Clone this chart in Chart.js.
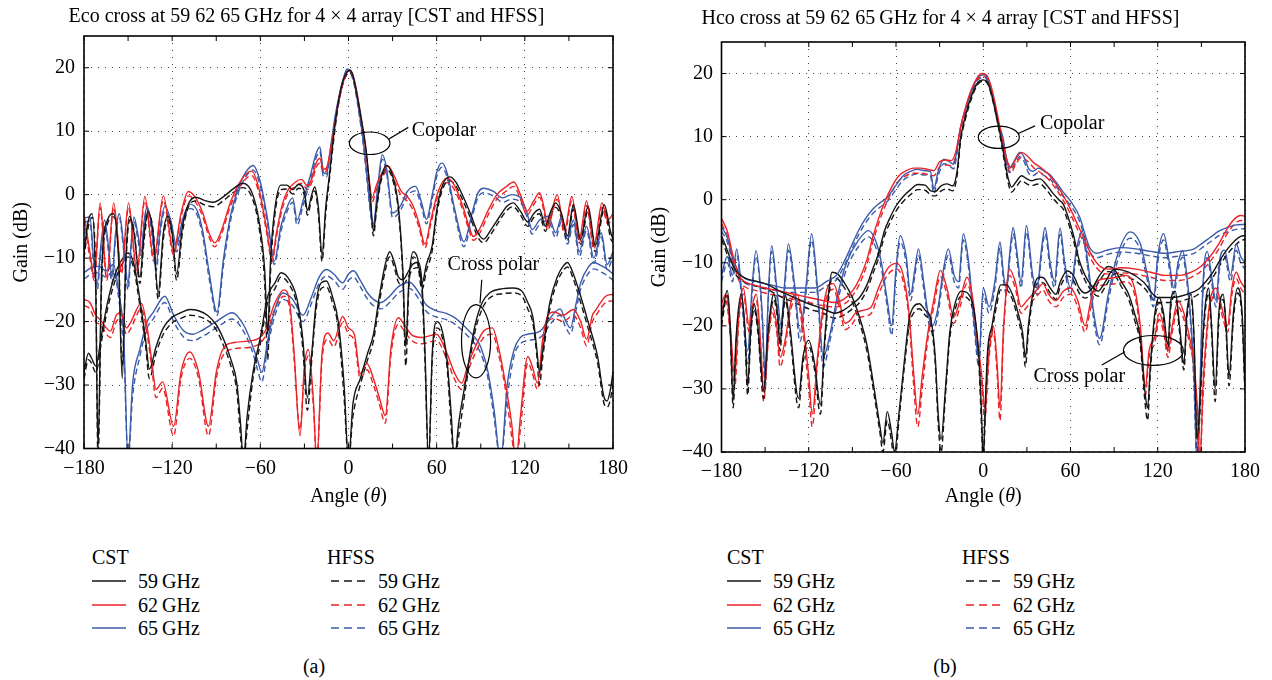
<!DOCTYPE html>
<html>
<head>
<meta charset="utf-8">
<script src="https://cdn.jsdelivr.net/npm/chart.js@4.4.1/dist/chart.umd.min.js"></script>
<style>
  body { margin: 0; background: #fff; width: 1272px; height: 680px; position: relative; overflow: hidden;
         font-family: 'Liberation Serif', serif; color: #000; }
  canvas { position: absolute; top: 0; }
  .lg { position: absolute; font-size: 20px; line-height: 24px; white-space: nowrap; }
  .ln { position: absolute; }
</style>
</head>
<body>
<canvas id="chartA" width="636" height="520" style="left:0"></canvas>
<canvas id="chartB" width="636" height="520" style="left:636px"></canvas>
<div id="legend"></div>
<script>
// axis ticks
const xTicks = [-180, -150, -120, -90, -60, -30, 0, 30, 60, 90, 120, 150, 180];
const yTicks = [-40, -30, -20, -10, 0, 10, 20];
const freqs = ['59 GHz', '62 GHz', '65 GHz'];

// ---------- (a) Eco cross ----------
// copolar 59 GHz
const aCo59ang = [
  -180,-177,-174.5,-172,-170.5,-168,-164,-160,-156.5,-154,
  -151.5,-149,-146,-142,-139,-136.5,-133,-129.5,-126,-123,
  -120,-117,-113,-109,-104,-98,-92,-85,-78,-72,
  -66,-61,-57,-55,-53,-50,-46,-42,-38,-34,
  -30,-28,-25,-23,-20.5,-18,-15.5,-13,-10,-7,
  -4,-1,1,3,6,9,12,14.5,17,19,
  22,26,30,34,37,39,41,44,47,50,
  53,57,60,64,69,73,78,83,88,92,
  97,103,108,112,117,122,126,130,134,137,
  141,145,149,153,158,163,168,174,178.5,180];
const aCo59cst = [
  -9,-4,-3,-15,-40,-12,-4,-3,-10,-29,
  -10,-3.4,-6,-13,-6,-2.6,-6,-15.5,-6,-3.4,
  -6,-12.5,-5,-1.5,-0.4,-0.9,-1.2,-0.3,1,1.8,
  0.5,-4,-12,-22,-10,-2,1.5,1.5,0.8,1.6,
  0.5,-2.5,0,1.2,-2,-9.5,-2,3,9.5,14.5,
  17.8,19.3,19.6,18.8,15.5,11.5,7,1,-5.8,-2,
  2.5,4.6,3,-2,-12,-24,-14,-9,-10,-14,
  -11,-8,-2.5,1.5,2.8,2,-0.3,-3,-6,-7,
  -5.5,-3.4,-1.8,-1.3,-2.6,-4.3,-3,-2.3,-5,-3,
  -1.3,-3,-6.5,-1.6,-7,-1.8,-8,-1.6,-6,-7];
const aCo59hfss = [
  -10,-5,-3.6,-13,-42,-14,-4.6,-3.5,-9,-27,
  -11,-4,-5.5,-14,-7,-3.2,-5.5,-16.5,-7,-4,
  -6.5,-13.5,-6,-2,-1,-1.6,-1.9,-0.9,0.4,1.1,
  -0.3,-5,-14,-26,-12,-3,0.8,0.9,0.1,1,
  -0.2,-3.2,-0.6,0.6,-3,-10.5,-3,2.4,8.8,14,
  17.4,19,19.3,18.5,15.2,11,6.3,0.2,-6.5,-2.6,
  2,4,2.4,-2.7,-13,-27,-15,-9.8,-10.8,-15,
  -12,-8.8,-3.2,0.9,2.2,1.4,-1,-3.7,-6.7,-7.6,
  -6.2,-4,-2.4,-1.9,-3.2,-5,-3.6,-3,-5.8,-3.7,
  -2,-3.7,-7.3,-2.3,-7.8,-2.5,-9,-2.3,-7,-7.5];

// copolar 62 GHz
const aCo62ang = [
  -180,-176,-173,-169,-164.5,-159.8,-154.5,-149.7,-144,-138.6,
  -132.5,-126,-119,-114,-109,-104,-99,-95,-91,-87,
  -80,-73,-66,-61,-56,-52,-49,-45,-41,-36,
  -32,-28,-25,-22,-19.5,-17,-15,-12,-9,-6,
  -3,0,2,5,8,11,14,16,19,23,
  27,31,36,40,44,48,52,56,61,67,
  72,78,82,85,89,95,101,107,112.5,117,
  121.5,126,130,133,135.6,139,142,147,152,157,
  162,167,172.5,176.5,180];
const aCo62cst = [
  -3,-9,-13,-1.3,-13,-1.3,-12,-1.3,-12,-0.3,
  -10,-0.2,-9,-3,0.5,-0.5,-3,-6,-7.6,-6,
  -1,2.3,3.7,1,-5,-10,-6,-1.5,0.8,2,
  2.4,1.4,2.5,5,5.7,4,4.2,7.5,11.5,15.5,
  18.2,19.5,19.4,17,13,8.5,2.5,-0.5,1.5,3.5,
  4.5,3,0.5,-0.3,-1.8,-4.5,-7.8,-4,0.5,2.6,
  1.5,-2,-5,-6.6,-5.5,-2.5,0,1.2,2,0,
  -2.6,-1,0.3,-2,-5,-2,0,-5.5,-0.3,-7,
  -1,-8,-1.3,-4,-3];
const aCo62hfss = [
  -3.8,-10,-13.5,-2,-13.5,-2,-12.5,-2,-12.5,-1,
  -10.5,-0.9,-9.5,-3.6,-0.2,-1.2,-3.6,-6.6,-8.2,-6.6,
  -1.6,1.6,3,0.3,-5.6,-10.5,-6.6,-2.2,0.2,1.4,
  1.8,0.8,1.9,4.3,5,3.4,3.8,7.2,11.3,15.3,
  18,19.2,19,16.5,12.3,7.8,1.8,-1.2,0.8,2.8,
  3.8,2.3,-0.2,-1,-2.5,-5.2,-8.4,-4.6,-0.2,1.9,
  0.8,-2.6,-5.6,-7.2,-6.2,-3.2,-0.7,0.5,1.3,-0.7,
  -3.2,-1.6,-0.4,-2.6,-5.6,-2.6,-0.7,-6.2,-1,-7.6,
  -1.7,-8.6,-2,-4.6,-3.6];

// copolar 65 GHz
const aCo65ang = [
  -180,-176,-173.5,-171,-168.5,-166,-163,-161,-158.5,-156,
  -153,-150,-148,-146,-143.5,-141,-139,-137,-134,-131,
  -128,-125,-121,-117,-113,-108,-103,-99,-95,-89.5,
  -85,-80,-75,-70,-65,-60,-55,-50.5,-46,-41,
  -38,-35,-31,-26,-22,-19.5,-17,-15,-12,-9,
  -6,-3,-1,1,4,7,10,13,15,17,
  20,23,26,30,33,36,40,45.6,50,53,
  57,60,63.5,67,72,78.6,84,88,92,98.6,
  105,111,117,121,125,130,136,141,145,149,
  153,157,162,167,172,176,180];
const aCo65cst = [
  -3.7,-3.5,-10,-14,-8,-4,-9,-13,-6,-3,
  -8,-14,-8,-3.5,-6,-9,-4,-1.9,-5,-11,
  -5,-1.8,-4,-8,-4,-1.5,-2.5,-6,-12,-18.5,
  -10,-3,1,3.5,4.6,2,-4,-10.5,-5,-1.5,
  -0.5,-4,-1,3,6.5,7.5,3.5,3.3,7.8,12.5,
  16,18.7,19.8,19.6,17.6,13.5,8.5,2,-2.5,-4.5,
  1.5,6.3,4,-2.9,-2.5,-1.5,0.5,1.3,-1.5,-3.9,
  0,3.5,5,3.5,-2,-7.4,-3,0.2,1,0.5,
  -0.5,0,-0.5,-2.5,-5.5,-4,-3.4,-6,-3.5,-7,
  -4,-9,-5,-10,-6,-11,-9];
const aCo65hfss = [
  -4.3,-4.2,-11,-15,-8.7,-4.7,-9.8,-14,-6.7,-3.7,
  -8.8,-15,-8.7,-4.2,-6.8,-10,-4.7,-2.6,-5.8,-12,
  -5.8,-2.5,-4.8,-9,-4.8,-2.2,-3.2,-6.8,-13,-19,
  -11,-3.8,0.3,2.8,3.9,1.3,-4.8,-11,-5.8,-2.2,
  -1.2,-4.8,-1.8,2.2,5.8,6.8,2.8,2.8,7.3,12,
  15.6,18.4,19.5,19.3,17.2,13,8,1.4,-3,-5,
  0.8,5.6,3.3,-3.6,-3.2,-2.2,-0.2,0.6,-2.2,-4.6,
  -0.7,2.8,4.3,2.8,-2.7,-8.2,-3.7,-0.5,0.3,-0.2,
  -1.2,-0.7,-1.2,-3.2,-6.2,-4.7,-4.1,-6.8,-4.2,-7.8,
  -4.7,-9.8,-5.7,-10.8,-6.7,-11.8,-9.8];

// cross polar 59 GHz
const aX59ang = [
  -180,-177,-175,-172,-168,-164,-158,-153,-150,-146,
  -142,-138,-135.5,-131,-126,-120,-114,-108,-102,-96,
  -90,-85,-80,-76,-73.5,-71.5,-69,-65,-60,-55,
  -50,-46,-40,-35,-31,-28,-25,-22,-18.6,-15,
  -11,-7,-3,0,3,8,13,17,21,25,
  28,31,34,37,41,44,47.6,50,52,54.5,
  57,60,63,67,70,72,75,80,86,91,
  96,105,112,118,122,125.5,128,130,132,137,
  142,146,149,153,158,163,169.5,174,176,178,180];
const aX59cst = [
  -28,-25,-25.7,-27,-22,-17,-12,-9.8,-9.2,-11,
  -16.5,-23,-27.5,-24,-21,-19.3,-18.6,-18.1,-18.3,-19,
  -20.5,-22.8,-26,-29.7,-36,-42,-35,-28,-22.5,-16,
  -13.9,-12.3,-13.5,-16.5,-23,-32,-25,-17,-13.9,-13.6,
  -16,-20,-30,-42,-33,-29,-25,-22,-16,-11,
  -9,-10.5,-13,-13.4,-12,-10.9,-10.7,-14,-24.4,-42,
  -25,-20,-20.8,-26,-35,-42,-36,-29,-20.7,-17,
  -15.5,-14.8,-14.7,-15.2,-17,-19.3,-24,-28,-25,-17,
  -13,-11.3,-10.7,-12.5,-16,-20,-25.5,-32,-32.5,-31,-28];
const aX59hfss = [
  -29,-26,-26.5,-28,-23,-18,-13,-10.5,-9.8,-11.8,
  -17.5,-24,-29,-25,-22,-20.2,-19.5,-19,-19.2,-19.8,
  -21.3,-23.8,-27,-31,-38,-42,-37,-29,-23.5,-17,
  -14.8,-13,-14.3,-17.5,-24.5,-34,-26,-18,-14.8,-14.5,
  -17,-21,-32,-42,-35,-30,-26,-23,-17,-12,
  -9.8,-11.3,-13.8,-14.2,-12.8,-11.7,-11.5,-15,-26,-42,
  -26,-21,-21.8,-27,-37,-42,-38,-30,-21.7,-18,
  -16.3,-15.6,-15.5,-16,-18,-20.3,-25,-30,-26,-18,
  -13.8,-12,-11.4,-13.3,-17,-21,-26.5,-33,-33.5,-32.5,-30];

// cross polar 62 GHz
const aX62ang = [
  -180,-176,-172,-169,-162,-158,-155,-151,-148,-141,
  -137,-134,-131,-126.5,-119,-114,-108,-102,-95.3,-90,
  -86,-78,-66,-57,-50,-44,-40,-37,-33,-30,
  -27.3,-24,-21.6,-18,-14,-10,-4,0,4,8,
  12.5,17,21,25,29,34,38,43,50,59.9,
  67,72,77,81,85.5,92,97.9,102,107,111,
  114,117,122,125,128.6,132,135.4,140,146,153,
  158,162,166,168.5,175,180];
const aX62cst = [
  -16.5,-17,-19,-19.7,-21.5,-19,-18.6,-21,-20,-17.1,
  -21,-26,-30.7,-29.5,-36.5,-28,-24.8,-28,-36.5,-28,
  -24.6,-23.3,-23,-21.6,-17,-15,-17,-25,-38,-27,
  -24.4,-32,-42,-25,-21.8,-23,-19.2,-21,-22,-28.2,
  -26.6,-29,-32,-34.8,-24,-19.4,-20.5,-22.1,-22.5,-22,
  -25,-28,-29.7,-27,-24.4,-21.5,-21,-24,-30,-36,
  -42,-35,-25.5,-27,-29.7,-23,-19.2,-18.5,-19,-18.1,
  -20,-22.8,-19,-18.1,-16,-15.7];
const aX62hfss = [
  -17.5,-18,-20,-20.5,-22.5,-20,-19.5,-22,-21,-18,
  -22,-27,-32,-30.5,-38,-29,-25.8,-29,-38,-29,
  -25.6,-24.3,-24,-22.5,-18,-16,-18,-26,-37,-28,
  -25.4,-33,-42,-26,-22.8,-24,-20.2,-22,-23,-29,
  -27.6,-30,-33,-36,-25,-20.4,-21.5,-23,-23.5,-23,
  -26,-29,-30.7,-28,-25.4,-22.5,-22,-25,-31,-38,
  -42,-37,-26.5,-28,-30.7,-24,-20.2,-19.5,-20,-19,
  -21,-23.8,-20,-19,-17,-16.7];

// cross polar 65 GHz
const aX65ang = [
  -180,-175,-170,-165,-160,-156,-153,-150,-147,-142,
  -137,-133,-125,-119,-112,-106,-100.6,-90,-79,-71,
  -65,-62,-59,-55,-50,-44.7,-38,-31,-25,-20,
  -15,-10,-4,0,3.4,8,13,17,22,28,
  34,41.6,48,53,60,66.6,73,80,86,90,
  95,99,103.6,108,112.7,117,121.8,130.5,137,144,
  148,151,155,158,163,167,172,175.8,180];
const aX65cst = [
  -12.3,-11.5,-11.3,-12,-11,-16,-22,-42,-30,-24.4,
  -20,-18.6,-16,-19,-21.5,-22,-21.5,-20,-18.6,-20.7,
  -24,-26,-28,-23,-18,-15.5,-16.5,-19,-16,-13,
  -11.8,-12.5,-13.9,-12.5,-12,-13.5,-15.5,-16.5,-17,-16,
  -14.5,-13.8,-15.5,-17.4,-18.3,-18.7,-19.5,-21,-22.5,-24,
  -28,-33.8,-42,-30,-24.4,-22.5,-22,-21.5,-19.5,-18,
  -20,-21,-17,-13.9,-11.5,-10.7,-11.2,-11.7,-12.5];
const aX65hfss = [
  -13.3,-12.5,-12.3,-13,-12,-17,-24,-42,-32,-25.5,
  -21,-19.6,-17,-20,-22.5,-23,-22.5,-21,-19.6,-21.7,
  -25,-27.5,-29.5,-24,-19,-16.5,-17.5,-20,-17,-14,
  -12.8,-13.5,-14.9,-13.5,-13,-14.5,-16.5,-17.5,-18,-17,
  -15.5,-14.8,-16.5,-18.4,-19.3,-19.7,-20.5,-22,-23.5,-25,
  -29,-35,-42,-32,-25.4,-23.5,-23,-22.5,-20.5,-19,
  -21,-22,-18,-14.9,-12.5,-11.7,-12.2,-12.7,-13.5];

// ---------- (b) Hco cross ----------
// copolar 59 GHz
const bCo59ang = [
  -180,-176,-172,-168,-163,-155,-148,-140,-130,-120,
  -110,-102,-96,-90,-85,-80,-76,-72,-68,-64,
  -60,-55,-50,-45,-40,-36,-33,-29,-25,-21,
  -18,-15.7,-12,-8,-4,0,3,6,9,12,
  15,17,19.5,22.5,26.4,30,33.3,36,39,43,
  48,52,55,58,61.8,66,70,74,79,84,
  90,100,110,120,130,140,148,153,158,163,
  168,173,177,180];
const bCo59cst = [
  -5.7,-8,-10.5,-11.8,-12.5,-13,-13.5,-14.5,-15.5,-16.5,
  -17.3,-18,-17.5,-16.5,-15.5,-13.5,-11,-8.5,-5,-2.8,
  -1,0.5,1.6,2.4,2.3,1.4,1.3,2.2,2.5,2.2,
  4.5,9.5,13.5,16.5,18.5,19,18.6,16.5,13.5,10,
  6,3.5,2,2.8,3.8,3.3,3,3.2,3.3,2.5,
  1,0,-0.7,-2.5,-5.4,-9.6,-12,-13.5,-14.5,-13,
  -11,-11.5,-13,-15.5,-15.5,-15,-14.2,-13,-11.5,-9.5,
  -7.8,-6.5,-5.8,-5.7];
const bCo59hfss = [
  -6.3,-8.7,-11.2,-12.5,-13.2,-13.8,-14.3,-15.3,-16.3,-17.3,
  -18,-18.8,-18.3,-17.3,-16.3,-14.3,-11.8,-9.3,-5.8,-3.6,
  -1.8,-0.3,0.8,1.6,1.5,0.7,0.6,1.4,1.7,1.4,
  3.8,9,13,16.1,18.2,18.8,18.4,16.2,13.1,9.5,
  5.4,2.8,1.2,2,3,2.5,2.2,2.4,2.5,1.7,
  0.2,-0.8,-1.5,-3.3,-6.2,-10.4,-12.8,-14.3,-15.3,-13.8,
  -11.8,-12.3,-13.8,-16.3,-16.3,-15.8,-15,-13.8,-12.3,-10.3,
  -8.6,-7.3,-6.5,-6.3];

// copolar 62 GHz
const bCo62ang = [
  -180,-176,-172,-168,-164,-158,-150,-140,-130,-120,
  -110,-102,-96,-90,-85,-80,-76,-72,-68,-63,
  -58,-53,-48,-43,-38,-34,-30,-26,-22,-19,
  -15.7,-12,-8,-4,-1,2,5,8,11,14,
  17,19,22.5,26.4,30,35,40,45,50,55,
  60,65,70,75,80,86,95,105,115,125,
  135,143,150,156,162,168,173,177,180];
const bCo62cst = [
  -3,-5,-9,-12,-13,-13.5,-14,-14.5,-15,-15.5,
  -16,-16.3,-15.8,-14.5,-12.5,-9.5,-6,-3,-0.5,2,
  3.8,4.6,5,5,4.8,4.6,6,6.3,6.2,7.5,
  11.4,14.8,17.6,19.4,20,19.8,18.3,15.5,12,8.5,
  5.8,5.1,6.5,7.5,7,5.8,5,4,2.5,0.7,
  -1.5,-4,-6.5,-9,-10.5,-11,-10.8,-11,-11.5,-12,
  -12,-11.5,-10.5,-9,-7,-4.5,-3,-2.5,-2.6];
const bCo62hfss = [
  -3.8,-5.8,-9.8,-12.8,-13.8,-14.3,-14.8,-15.3,-15.8,-16.3,
  -16.8,-17,-16.6,-15.3,-13.3,-10.3,-6.8,-3.8,-1.3,1.2,
  3,3.8,4.2,4.2,4,3.8,5.2,5.5,5.4,6.8,
  10.8,14.3,17.2,19,19.6,19.4,17.9,15,11.4,7.9,
  5.1,4.3,5.7,6.7,6.2,5,4.2,3.2,1.7,-0.1,
  -2.3,-4.8,-7.3,-9.8,-11.3,-11.8,-11.6,-11.8,-12.3,-12.8,
  -12.8,-12.3,-11.3,-9.8,-7.8,-5.3,-3.8,-3.3,-3.4];

// copolar 65 GHz
const bCo65ang = [
  -180,-176,-172,-168,-164,-156,-146,-136,-126,-116,
  -108,-101,-96,-91,-86,-81,-76,-71,-66,-60,
  -55,-50,-45.4,-40,-36.4,-34,-31,-27,-23,-20.3,
  -18,-15.7,-12,-8,-4,-1.8,1,4,7,10,
  13.6,16,18,21,25.2,28,31,34,38,42,
  45.8,50,55,60,66.4,70,73,78,85,95,
  105,115,125,135,145,150,156,162,168,174,180];
const bCo65cst = [
  -4.3,-6,-9.5,-11.5,-12.5,-13,-13.5,-14,-14,-14,
  -13,-12,-10,-7.5,-5,-3,-1.5,-0.5,0.4,2.3,
  3.8,4.5,4.8,4.6,4.5,1.7,4.5,6.4,6,5.6,
  8,11.4,14.5,17.2,19.3,19.7,19.8,18.5,16,12.5,
  9.8,6.5,5,6,7.5,6.8,5,4.5,5,4.5,
  4,2.8,1.2,-0.2,-2.8,-5.5,-7.5,-8.5,-8,-7.6,
  -7.8,-8.2,-8.5,-8.2,-7.8,-7,-6,-5,-4.4,-4,-3.9];
const bCo65hfss = [
  -5,-6.7,-10.2,-12.2,-13.2,-13.7,-14.2,-14.7,-14.7,-14.7,
  -13.7,-12.7,-10.7,-8.2,-5.7,-3.7,-2.2,-1.2,-0.3,1.6,
  3.1,3.8,4.1,3.9,3.8,1,3.8,5.7,5.3,4.9,
  7.4,10.9,14,16.8,18.9,19.3,19.4,18.1,15.5,12,
  9.2,5.8,4.3,5.3,6.8,6.1,4.3,3.8,4.3,3.8,
  3.3,2.1,0.5,-0.9,-3.5,-6.2,-8.2,-9.2,-8.7,-8.3,
  -8.5,-8.9,-9.2,-8.9,-8.5,-7.7,-6.7,-5.7,-5.1,-4.7,-4.6];

// cross polar 59 GHz
const bX59ang = [
  -180,-176,-174,-172,-170,-166.5,-164,-162,-160,-157.6,
  -155,-151,-148,-144,-141.5,-139.7,-138,-136,-133,-127,
  -124,-120,-116,-112,-109,-106,-104,-100,-96,-90,
  -86,-80,-75,-71,-69,-66,-63,-61,-58,-54,
  -51,-48,-44,-40,-36,-33,-31,-29,-26,-23,
  -20,-15,-10,-6,-3,-1,0,1,3,6,
  9,12,16,20,24,27,29,31,34,37,
  39.5,42,46,50,53,57.8,62,66,70,75,
  80,86,90,95,100,104,108,111,113,115,
  118,121,124,127,129,132,135,138,140,143,
  145,147,149,151,153,155,157,159.5,162,165,
  167,169,172,175,178,180];
const bX59cst = [
  -19,-14.4,-20,-31.8,-22,-15,-20,-29.6,-21,-16.5,
  -20,-30.2,-21,-15,-18,-22.8,-18,-15.2,-20,-31.5,
  -25,-22.3,-26,-32.5,-22,-14,-11.5,-11.8,-13,-15.5,
  -18,-23,-30,-36,-38.6,-33.6,-37,-40,-34,-25,
  -19,-17,-16.5,-17.5,-19,-25,-34,-38,-30,-21,
  -17,-14.5,-15,-18,-25,-35,-42,-35,-24,-20,
  -16,-13.5,-13.5,-15,-18,-21,-25,-20,-15,-12.5,
  -12.3,-12.5,-14,-15,-13,-11.3,-12,-14,-14.8,-14,
  -12,-10.6,-11,-13,-15,-18,-22,-30,-33,-26,
  -18,-15.5,-18,-23,-16,-14.5,-20,-26,-18,-15,
  -22,-38,-32,-22,-16,-14,-20,-30,-18,-15,
  -20,-28,-18,-14,-18,-30];
const bX59hfss = [
  -20,-15.2,-21,-33,-23,-15.8,-21,-31,-22,-17.3,
  -21,-31.5,-22,-15.8,-19,-24,-19,-16,-21,-33,
  -26,-23.2,-27,-34,-23,-15,-12.4,-12.6,-13.8,-16.3,
  -18.8,-24,-31,-37,-40,-35,-38.5,-42,-35,-26,
  -20,-18,-17.3,-18.3,-20,-26,-35.5,-40,-31,-22,
  -18,-15.3,-15.8,-19,-26,-37,-42,-37,-25,-21,
  -17,-14.3,-14.3,-15.8,-19,-22,-26.5,-21,-15.8,-13.3,
  -13.1,-13.3,-14.8,-15.8,-13.8,-12.1,-12.8,-14.8,-15.6,-14.8,
  -12.8,-11.4,-11.8,-13.8,-15.8,-19,-23,-31.5,-35,-27,
  -19,-16.3,-19,-24,-17,-15.3,-21,-27,-19,-15.8,
  -23,-40,-34,-23,-17,-14.8,-21,-32,-19,-15.8,
  -21,-29.5,-19,-14.8,-19,-31];

// cross polar 62 GHz
const bX62ang = [
  -180,-177,-174,-171,-168,-165,-161,-158,-156,-153,
  -151,-148,-145,-142,-139.7,-136,-132,-128,-124,-120,
  -117.6,-114,-110,-106,-103,-99,-95,-91,-88,-82,
  -77,-72,-66,-59.5,-55,-51,-48,-45,-42,-38,
  -34,-29.5,-25,-20.3,-16,-11.2,-7,-4.3,-1,1,
  4,7,9.5,11.5,14,18,22,26,30,34,
  38,41,45,50,55,60,65,70,74,78,
  85,92,98,104,108,111.5,114,118,121,124,
  127,130,134,138,142,145,147.5,149,151,154,
  156,160,165,168,171,174,177,180];
const bX62cst = [
  -16.5,-15,-20,-28,-18,-14,-20,-16,-15,-23,
  -30.5,-22,-17,-20,-25,-22,-16,-15,-19.7,-28,
  -34,-25,-17,-13.5,-13.3,-16,-19.6,-19,-18,-17.5,
  -17,-14,-11,-10.1,-12,-18,-27,-34,-28,-21,
  -15.9,-11.2,-14,-18.6,-16,-12.3,-16,-21.7,-28,-33,
  -24,-20,-26,-33,-20,-11,-13,-17,-16,-15,
  -14,-13.3,-15,-16,-14.5,-14,-16,-20,-16,-13,
  -12.5,-12.3,-12,-14,-20,-29.6,-24,-21.7,-18,-20,
  -24,-20,-16,-18,-22,-26,-34,-42,-30,-20,
  -16,-14,-18,-20,-14,-11.5,-13,-14];
const bX62hfss = [
  -17.5,-16,-21.5,-30,-19,-15,-21,-17,-16,-24.5,
  -32,-23,-18,-21,-26.5,-23,-17,-16,-21,-30,
  -36,-26,-18,-14.5,-14.2,-17,-20.6,-20,-19,-18.5,
  -18,-15,-12,-11,-13,-19,-29,-36,-30,-22,
  -17,-12.2,-15,-19.6,-17,-13.3,-17,-22.7,-29.5,-35,
  -25,-21,-27.5,-35,-21,-12,-14,-18,-17,-16,
  -15,-14.3,-16,-17,-15.5,-15,-17,-21,-17,-14,
  -13.5,-13.3,-13,-15,-21,-31,-25,-22.7,-19,-21,
  -25,-21,-17,-19,-23,-27,-36,-42,-32,-21,
  -17,-15,-19,-21,-15,-12.5,-14,-15];

// cross polar 65 GHz
const bX65ang = [
  -180,-176,-172.5,-169.5,-166,-162,-159,-156.3,-152,-150,
  -148,-145.5,-142,-139,-136.5,-134,-130,-126,-122,-118,
  -114,-110,-106,-100,-94,-86,-79,-74,-70,-66,
  -63,-60,-57.2,-53,-50,-47,-44.6,-41,-38,-35,
  -31,-28,-24,-20,-17,-13.7,-10,-6,-3,0,
  4,8,11.5,14,16,18,20.6,23,26,29.7,
  34,37,40,42.5,46,49,52.8,56,60,64,
  68,72,76,80,86,92,101,108,113,117,
  120,124,128,131,134,137,140,143,145,147,
  149,151,154,157,160,163,166,170,174,177,180];
const bX65cst = [
  -12,-9,-12,-7.8,-15,-24,-14,-8.1,-18,-28,
  -16,-7.3,-14,-20,-13,-7,-13,-21,-14,-5.4,
  -14,-25,-22,-15,-10,-6.5,-4.9,-6.5,-10,-16,
  -20,-11,-5.7,-9,-15,-11,-7.8,-13,-18,-20,
  -17,-12,-7.8,-12,-13,-5.4,-10,-20,-25,-14,
  -17,-13,-6.7,-12,-14,-9,-4.4,-8,-13,-4.1,
  -12,-14,-8,-4.4,-10,-13,-4.5,-10,-14,-8,
  -5,-10,-18,-22,-15,-9,-5.1,-7,-12,-16,
  -9,-5.4,-10,-14,-10,-8.1,-12,-20,-28,-42,
  -30,-14,-8.2,-12,-16,-9,-8,-12,-7,-9,-10];
const bX65hfss = [
  -13,-10,-13,-8.8,-16,-26,-15,-9,-19,-30,
  -17,-8.2,-15,-21.5,-14,-8,-14,-22.5,-15,-6.4,
  -15,-26.5,-23,-16,-11,-7.5,-5.9,-7.5,-11,-17,
  -21.5,-12,-6.7,-10,-16,-12,-8.8,-14,-19,-21,
  -18,-13,-8.8,-13,-14,-6.4,-11,-21,-26.5,-15,
  -18,-14,-7.7,-13,-15,-10,-5.4,-9,-14,-5.1,
  -13,-15,-9,-5.4,-11,-14,-5.5,-11,-15,-9,
  -6,-11,-19,-23,-16,-10,-6.1,-8,-13,-17,
  -10,-6.4,-11,-15,-11,-9.1,-13,-21,-30,-42,
  -32,-15,-9.2,-13,-17,-10,-9,-13,-8,-10,-11];

// callouts: ellipse centre/radii, leader line ends, label anchor (all in angle / dB)
const notesA = [
  { cx: 14.4, cy: 8.1, rx: 13.8, ry: 1.77, l: [27.8, 8.8, 40.7, 10.6], text: 'Copolar', tx: 43, ty: 10.1, align: 'left' },
  { cx: 86.8, cy: -23.1, rx: 9.9, ry: 5.76, l: [89.5, -17.1, 90.7, -13.4], text: 'Cross polar', tx: 98.6, ty: -11.1, align: 'center' }
];
const notesB = [
  { cx: 10.7, cy: 9.9, rx: 14.1, ry: 1.77, l: [24.1, 10.5, 35.6, 11.7], text: 'Copolar', tx: 39, ty: 12, align: 'left' },
  { cx: 117, cy: -23.9, rx: 20.6, ry: 2.37, l: [97.5, -24.1, 81.5, -26.2], text: 'Cross polar', tx: 66, ty: -28, align: 'center' }
];

const BLACK = '#151515';
const RED = '#ec2227';
const BLUE = '#3a5aaa';
const FONT = "'Liberation Serif', 'Times New Roman', serif";

Chart.defaults.font.family = FONT;
Chart.defaults.color = '#000';

function pts(ang, val) {
  return ang.map((a, i) => ({ x: a, y: val[i] }));
}

function fmt(v) {
  return v < 0 ? '\u2212' + Math.abs(v) : String(v);
}

function line(ang, val, color, dashed) {
  return {
    data: pts(ang, val),
    borderColor: color,
    borderWidth: 1.4,
    borderDash: dashed ? [6, 3.5] : [],
    pointRadius: 0,
    fill: false,
    cubicInterpolationMode: 'monotone'
  };
}

// box with inward tick marks, like a MATLAB axes, callouts, and the x title with an italic theta
const frame = {
  id: 'frame',
  afterDraw(chart, args, opts) {
    const { ctx, chartArea: a, scales: { x, y } } = chart;
    ctx.save();
    ctx.strokeStyle = '#000';
    ctx.lineWidth = 1;
    ctx.beginPath();
    xTicks.forEach(v => {
      const p = x.getPixelForValue(v);
      ctx.moveTo(p, a.bottom); ctx.lineTo(p, a.bottom - 5);
      ctx.moveTo(p, a.top); ctx.lineTo(p, a.top + 5);
    });
    yTicks.forEach(v => {
      const p = y.getPixelForValue(v);
      ctx.moveTo(a.left, p); ctx.lineTo(a.left + 5, p);
      ctx.moveTo(a.right, p); ctx.lineTo(a.right - 5, p);
    });
    ctx.stroke();
    ctx.lineWidth = 1.6;
    ctx.strokeRect(a.left, a.top, a.right - a.left, a.bottom - a.top);

    // callouts
    ctx.lineWidth = 1.2;
    ctx.fillStyle = '#000';
    ctx.font = '20px ' + FONT;
    ctx.textBaseline = 'middle';
    (opts.notes || []).forEach(n => {
      const px = x.getPixelForValue(n.cx), py = y.getPixelForValue(n.cy);
      const rx = Math.abs(x.getPixelForValue(n.cx + n.rx) - px);
      const ry = Math.abs(y.getPixelForValue(n.cy + n.ry) - py);
      ctx.beginPath();
      ctx.ellipse(px, py, rx, ry, 0, 0, Math.PI * 2);
      ctx.moveTo(x.getPixelForValue(n.l[0]), y.getPixelForValue(n.l[1]));
      ctx.lineTo(x.getPixelForValue(n.l[2]), y.getPixelForValue(n.l[3]));
      ctx.stroke();
      ctx.textAlign = n.align;
      ctx.fillText(n.text, x.getPixelForValue(n.tx), y.getPixelForValue(n.ty));
    });

    const parts = [['Angle (', 'normal'], ['\u03b8', 'italic'], [')', 'normal']];
    let total = 0;
    parts.forEach(p => { ctx.font = p[1] + ' 20px ' + FONT; total += ctx.measureText(p[0]).width; });
    let cx = (a.left + a.right) / 2 - total / 2;
    ctx.textAlign = 'left';
    parts.forEach(p => {
      ctx.font = p[1] + ' 20px ' + FONT;
      ctx.fillText(p[0], cx, 497);
      cx += ctx.measureText(p[0]).width;
    });
    ctx.restore();
  }
};

function makeChart(id, title, datasets, notes, d) {
  const f = { family: FONT, size: 20, weight: 'normal' };
  return new Chart(document.getElementById(id), {
    type: 'line',
    data: { datasets },
    options: {
      responsive: false,
      animation: false,
      layout: { padding: { left: 0, right: d.padRight, top: 0, bottom: 0 } },
      plugins: {
        legend: { display: false },
        tooltip: { enabled: false },
        frame: { notes },
        title: {
          display: true, text: title, color: '#000', font: f,
          padding: { top: d.titleTop, bottom: d.titleBottom }
        }
      },
      scales: {
        x: {
          type: 'linear', min: -180, max: 180,
          afterFit: s => { s.height = d.xHeight; },
          afterBuildTicks: s => { s.ticks = xTicks.map(v => ({ value: v })); },
          ticks: { font: f, color: '#000', padding: 8, maxRotation: 0, callback: v => fmt(v) },
          grid: { color: '#444', lineWidth: 1, drawTicks: false },
          border: { display: false, dash: [1, 6] }
        },
        y: {
          min: -40, max: 25,
          afterFit: s => { s.width = d.yWidth; },
          afterBuildTicks: s => { s.ticks = yTicks.map(v => ({ value: v })); },
          ticks: { font: f, color: '#000', padding: d.yPad, callback: v => fmt(v) },
          grid: { color: '#444', lineWidth: 1, drawTicks: false },
          border: { display: false, dash: [1, 6] },
          title: { display: true, text: 'Gain (dB)', font: f, color: '#000', padding: { top: d.yTitlePad, bottom: 0 } }
        }
      }
    },
    plugins: [frame]
  });
}

makeChart('chartA', 'Eco cross at 59 62 65\u2009GHz for 4 \u00d7 4 array [CST and HFSS]', [
  line(aCo59ang, aCo59cst, BLACK, false),
  line(aCo62ang, aCo62cst, RED, false),
  line(aCo65ang, aCo65cst, BLUE, false),
  line(aX59ang, aX59cst, BLACK, false),
  line(aX62ang, aX62cst, RED, false),
  line(aX65ang, aX65cst, BLUE, false),
  line(aCo59ang, aCo59hfss, BLACK, true),
  line(aCo62ang, aCo62hfss, RED, true),
  line(aCo65ang, aCo65hfss, BLUE, true),
  line(aX59ang, aX59hfss, BLACK, true),
  line(aX62ang, aX62hfss, RED, true),
  line(aX65ang, aX65hfss, BLUE, true)
], notesA, { padRight: 23, xHeight: 71.5, yWidth: 84, yPad: 9, yTitlePad: 10, titleTop: 5, titleBottom: 7 });

makeChart('chartB', 'Hco cross at 59 62 65\u2009GHz for 4 \u00d7 4 array [CST and HFSS]', [
  line(bCo59ang, bCo59cst, BLACK, false),
  line(bCo62ang, bCo62cst, RED, false),
  line(bCo65ang, bCo65cst, BLUE, false),
  line(bX59ang, bX59cst, BLACK, false),
  line(bX62ang, bX62cst, RED, false),
  line(bX65ang, bX65cst, BLUE, false),
  line(bCo59ang, bCo59hfss, BLACK, true),
  line(bCo62ang, bCo62hfss, RED, true),
  line(bCo65ang, bCo65hfss, BLUE, true),
  line(bX59ang, bX59hfss, BLACK, true),
  line(bX62ang, bX62hfss, RED, true),
  line(bX65ang, bX65hfss, BLUE, true)
], notesB, { padRight: 27, xHeight: 68, yWidth: 85.5, yPad: 8.5, yTitlePad: 12, titleTop: 7, titleBottom: 11 });

// legend below each panel (CST solid / HFSS dashed), plus panel letters
const colors = [BLACK, RED, BLUE];
function addText(x, y, txt, center) {
  const el = document.createElement('div');
  el.className = 'lg';
  el.textContent = txt;
  el.style.top = (y - 12) + 'px';
  el.style.left = x + 'px';
  if (center) el.style.transform = 'translateX(-50%)';
  document.getElementById('legend').appendChild(el);
}
function addLine(x, y, w, color, dashed) {
  const ns = 'http://www.w3.org/2000/svg';
  const svg = document.createElementNS(ns, 'svg');
  svg.setAttribute('class', 'ln');
  svg.setAttribute('width', w);
  svg.setAttribute('height', 6);
  svg.style.left = x + 'px';
  svg.style.top = (y - 3) + 'px';
  const l = document.createElementNS(ns, 'line');
  l.setAttribute('x1', 0); l.setAttribute('y1', 3);
  l.setAttribute('x2', w); l.setAttribute('y2', 3);
  l.setAttribute('stroke', color);
  l.setAttribute('stroke-width', 1.3);
  if (dashed) l.setAttribute('stroke-dasharray', '8 5');
  svg.appendChild(l);
  document.getElementById('legend').appendChild(svg);
}
function legendBlock(x0, x1, letterX, letter) {
  addText(x0, 557, 'CST');
  addText(x1, 557, 'HFSS');
  freqs.forEach((f, i) => {
    const y = 581 + i * 23.5;
    addLine(x0, y, 34, colors[i], false);
    addText(x0 + 46, y, f.replace(' ', '\u2009'));
    addLine(x1 + 4, y, 35, colors[i], true);
    addText(x1 + 51, y, f.replace(' ', '\u2009'));
  });
  addText(letterX, 666, letter, true);
}
legendBlock(92, 327, 314, '(a)');
legendBlock(727, 962, 945, '(b)');
</script>
</body>
</html>
